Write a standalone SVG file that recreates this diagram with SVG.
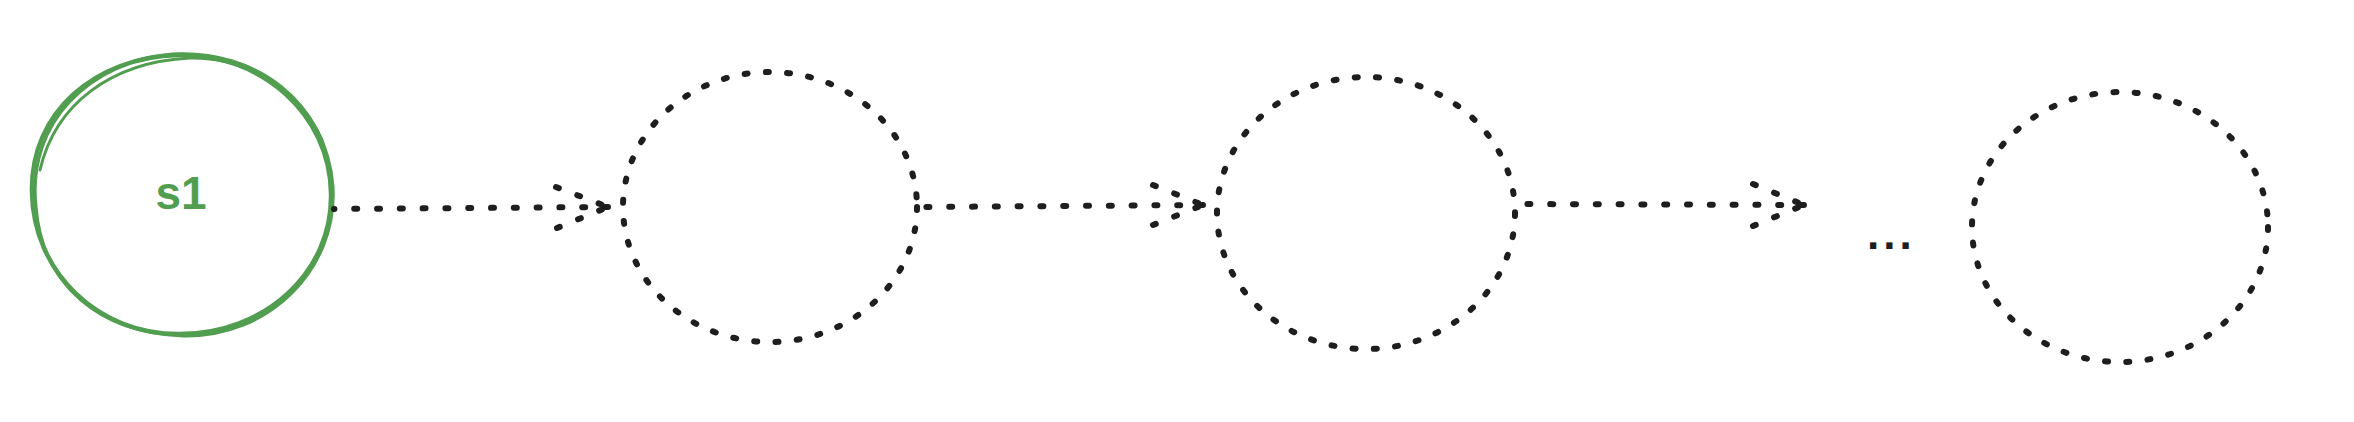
<svg xmlns="http://www.w3.org/2000/svg" width="2354" height="422" viewBox="0 0 2354 422">
  <style>
    .bg { fill: #ffffff; }
    .green { fill: none; stroke: #529e50; stroke-width: 4.5; stroke-linecap: round; stroke-linejoin: round; }
    .green-thin { fill: none; stroke: #529e50; stroke-width: 3; stroke-linecap: round; }
    .dotc { fill: none; stroke: #1e1e1e; stroke-width: 6; stroke-linecap: round; stroke-dasharray: 3 18.3; }
    .dotl { fill: none; stroke: #1e1e1e; stroke-width: 6; stroke-linecap: round; stroke-dasharray: 3 19.8; }
    .label { font-family: "Liberation Sans", "DejaVu Sans", sans-serif; font-size: 46px; font-weight: bold; fill: #529e50; text-anchor: middle; }
    .ellipsis { font-family: "Liberation Sans", "DejaVu Sans", sans-serif; font-size: 44px; font-weight: bold; fill: #1e1e1e; letter-spacing: 4px; }
  </style>
  <rect class="bg" x="0" y="0" width="2354" height="422"/>

  <g id="node-s1">
    <path class="green" d="M 32,192 C 30,112 96,57 178,55 C 262,53 330,115 331,193 C 333,272 265,334 180,334 C 98,335 33,272 32,192 Z"/>
    <path class="green-thin" d="M 36,206 C 27,122 90,62 172,54 C 256,49 326,102 333,186 C 338,270 268,338 183,336 C 100,333 42,286 36,206 Z"/>
    <path class="green-thin" d="M 40,170 C 55,105 110,62 190,58 C 250,57 300,92 322,140"/>
    <text class="label" x="181" y="209">s1</text>
  </g>

  <g id="node-2">
    <ellipse class="dotc" cx="770" cy="207" rx="147" ry="135"/>
  </g>

  <g id="node-3">
    <ellipse class="dotc" cx="1366" cy="213" rx="149" ry="136"/>
  </g>

  <g id="node-ellipsis">
    <text class="ellipsis" x="1867" y="249">...</text>
  </g>

  <g id="node-4">
    <ellipse class="dotc" cx="2120" cy="227" rx="148" ry="135"/>
  </g>

  <g id="connectors">
    <path class="dotl" d="M 608,207 L 334,209"/>
    <path class="dotl" d="M 556,187 L 608,207"/>
    <path class="dotl" d="M 557,228 L 608,207"/>

    <path class="dotl" d="M 1203,205 L 920,207"/>
    <path class="dotl" d="M 1153,185 L 1203,205"/>
    <path class="dotl" d="M 1153,225 L 1203,205"/>

    <path class="dotl" d="M 1804,205 L 1517,204"/>
    <path class="dotl" d="M 1753,184 L 1804,205"/>
    <path class="dotl" d="M 1753,226 L 1804,205"/>
  </g>
</svg>
